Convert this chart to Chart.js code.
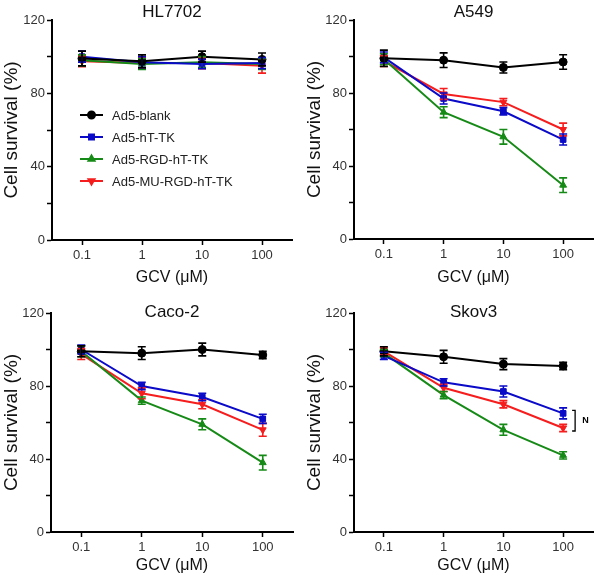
<!DOCTYPE html>
<html lang="en">
<head>
<meta charset="UTF-8">
<script src="https://cdn.jsdelivr.net/npm/chart.js"></script>
<title>Cell survival</title>
<style>
  body { margin: 0; background: #fff; }
  .painel { position: absolute; }
</style>
</head>
<body>
  <canvas id="grafico_1" class="painel" width="300" height="287" style="left:0;top:0"></canvas>
  <canvas id="grafico_2" class="painel" width="300" height="287" style="left:300px;top:0"></canvas>
  <canvas id="grafico_3" class="painel" width="300" height="288" style="left:0;top:287px"></canvas>
  <canvas id="grafico_4" class="painel" width="300" height="288" style="left:300px;top:287px"></canvas>

<script>
// valores (media e erro)
const categorias = ['0.1', '1', '10', '100'];
const nomesSeries = ['Ad5-blank', 'Ad5-hT-TK', 'Ad5-RGD-hT-TK', 'Ad5-MU-RGD-hT-TK'];
const yTicks = [0, 40, 80, 120];

const hl_blank = [99, 97.5, 100, 98.5];
const hl_blank_err = [4, 3.5, 3, 3.5];
const hl_htk = [100, 97, 96, 96.5];
const hl_htk_err = [3, 3, 2.5, 3];
const hl_rgd = [98, 96, 97, 96];
const hl_rgd_err = [3, 3, 3, 3];
const hl_mu = [97.5, 96.5, 96.5, 95];
const hl_mu_err = [3, 3, 3, 4];

const a549_blank = [99, 98, 94, 97];
const a549_blank_err = [4.5, 4, 3, 4];
const a549_htk = [99.5, 77, 70, 54.5];
const a549_htk_err = [3, 3, 2, 3];
const a549_rgd = [98.5, 69.5, 56, 29.5];
const a549_rgd_err = [3, 3, 4, 4];
const a549_mu = [97.5, 79.5, 75, 60];
const a549_mu_err = [3, 3, 2, 3.5];

const caco_blank = [99, 98, 100, 97];
const caco_blank_err = [3, 3.5, 3.5, 2];
const caco_htk = [100, 80, 74, 62];
const caco_htk_err = [2.5, 2, 2, 2.5];
const caco_rgd = [99, 72, 59, 38];
const caco_rgd_err = [3, 2, 3, 4];
const caco_mu = [97.5, 76, 70, 56];
const caco_mu_err = [3, 3, 2.5, 3.5];

const skov_blank = [99, 96, 92, 91];
const skov_blank_err = [2.5, 3.5, 3, 2];
const skov_htk = [96.5, 82, 77, 65];
const skov_htk_err = [2, 2, 3, 3];
const skov_rgd = [98, 75, 56, 42];
const skov_rgd_err = [2, 2, 3, 2];
const skov_mu = [99, 79, 70, 57];
const skov_mu_err = [2, 2, 2, 2];

// estilo das series
const cores = ['#000000', '#0a0ac8', '#168a16', '#f51d1d'];
const marcadores = ['circle', 'rect', 'triangle', 'triangle'];
const rotacoes = [0, 0, 0, 180];

Chart.defaults.font.family = "'Liberation Sans', Arial, sans-serif";
Chart.defaults.color = '#333';

const errorBars = {
  id: 'errorBars',
  afterDatasetsDraw(chart) {
    const ctx = chart.ctx;
    const y = chart.scales.y;
    for (let i = chart.data.datasets.length - 1; i >= 0; i--) {
      const ds = chart.data.datasets[i];
      const meta = chart.getDatasetMeta(i);
      ctx.save();
      ctx.strokeStyle = ds.borderColor;
      ctx.lineWidth = 1.6;
      meta.data.forEach((pt, j) => {
        const topo = y.getPixelForValue(ds.data[j] + ds.erros[j]);
        const base = y.getPixelForValue(ds.data[j] - ds.erros[j]);
        ctx.beginPath();
        ctx.moveTo(pt.x, topo); ctx.lineTo(pt.x, base);
        ctx.moveTo(pt.x - 4, topo); ctx.lineTo(pt.x + 4, topo);
        ctx.moveTo(pt.x - 4, base); ctx.lineTo(pt.x + 4, base);
        ctx.stroke();
      });
      ctx.restore();
    }
  }
};

// legenda dentro da area do grafico (so no primeiro painel)
const legendaInterna = {
  id: 'legendaInterna',
  afterDraw(chart, args, opts) {
    if (!opts.display) return;
    const ctx = chart.ctx;
    const area = chart.chartArea;
    chart.data.datasets.forEach((ds, i) => {
      const x = area.left + 28;
      const y = area.top + 95 + i * 22;
      ctx.save();
      ctx.strokeStyle = ds.borderColor;
      ctx.lineWidth = 2;
      ctx.beginPath();
      ctx.moveTo(x, y); ctx.lineTo(x + 23, y);
      ctx.stroke();
      ctx.fillStyle = ds.borderColor;
      Chart.helpers.drawPoint(ctx, {
        pointStyle: ds.pointStyle, rotation: ds.pointRotation,
        radius: 3.5, borderWidth: 1
      }, x + 11.5, y);
      ctx.fillStyle = '#222';
      ctx.font = "13px 'Liberation Sans', Arial, sans-serif";
      ctx.textBaseline = 'middle';
      ctx.fillText(ds.label, x + 32, y + 1);
      ctx.restore();
    });
  }
};

// colchete com "N" entre duas series no ultimo ponto
const colchete = {
  id: 'colchete',
  afterDraw(chart, args, opts) {
    if (!opts.display) return;
    const ctx = chart.ctx;
    const pa = chart.getDatasetMeta(opts.de).data[opts.ponto];
    const pb = chart.getDatasetMeta(opts.ate).data[opts.ponto];
    const x = pa.x + 12;
    const y1 = pa.y - 3, y2 = pb.y + 3;
    ctx.save();
    ctx.strokeStyle = '#000';
    ctx.lineWidth = 1.3;
    ctx.beginPath();
    ctx.moveTo(x - 3, y1); ctx.lineTo(x, y1); ctx.lineTo(x, y2); ctx.lineTo(x - 3, y2);
    ctx.stroke();
    ctx.fillStyle = '#000';
    ctx.font = "bold 9px 'Liberation Sans', Arial, sans-serif";
    ctx.textBaseline = 'middle';
    ctx.fillText(opts.texto, x + 7, (y1 + y2) / 2);
    ctx.restore();
  }
};

function montarSeries(medias, erros) {
  return medias.map((m, i) => ({
    label: nomesSeries[i],
    data: m,
    erros: erros[i],
    borderColor: cores[i],
    backgroundColor: cores[i],
    borderWidth: 2,
    pointStyle: marcadores[i],
    pointRotation: rotacoes[i],
    pointRadius: 4,
    pointBorderWidth: 1,
    tension: 0
  }));
}

function criarGrafico(id, titulo, medias, erros, lay, extras) {
  return new Chart(document.getElementById(id), {
    type: 'line',
    data: { labels: categorias, datasets: montarSeries(medias, erros) },
    options: {
      responsive: false,
      animation: false,
      layout: { padding: { left: 0, right: lay.right, top: 0, bottom: 0 } },
      plugins: {
        legend: { display: false },
        tooltip: { enabled: false },
        title: {
          display: true,
          fullSize: false,
          text: titulo,
          color: '#111',
          font: { size: 17, weight: 'normal' },
          padding: { top: lay.tituloTop, bottom: lay.tituloBottom }
        },
        legendaInterna: { display: !!extras.legenda },
        colchete: extras.colchete || { display: false }
      },
      scales: {
        x: {
          offset: true,
          afterFit: s => { s.height = lay.xAltura },
          border: { color: '#000', width: 2 },
          grid: { drawOnChartArea: false, tickLength: 5, tickColor: '#000', tickWidth: 1.5, offset: false },
          ticks: { color: '#333', font: { size: 13 }, padding: 3 },
          title: { display: true, text: 'GCV (μM)', color: '#111', font: { size: 16 }, padding: { top: lay.xTituloPad, bottom: 0 } }
        },
        y: {
          min: 0,
          max: 120,
          afterFit: s => { s.width = lay.yLargura },
          border: { color: '#000', width: 2 },
          grid: { drawOnChartArea: false, tickLength: 5, tickColor: '#000', tickWidth: 1.5 },
          ticks: {
            stepSize: 20,
            color: '#333',
            font: { size: 13 },
            padding: 2,
            callback: v => yTicks.includes(v) ? v : ''
          },
          title: { display: true, text: 'Cell survival (%)', color: '#111', font: { size: 19 }, padding: { top: lay.yTituloPad, bottom: 0 } }
        }
      }
    },
    plugins: [errorBars, legendaInterna, colchete]
  });
}

criarGrafico('grafico_1', 'HL7702',
  [hl_blank, hl_htk, hl_rgd, hl_mu],
  [hl_blank_err, hl_htk_err, hl_rgd_err, hl_mu_err],
  { yLargura: 52, right: 8, tituloTop: 2, tituloBottom: -2.4, xAltura: 47, xTituloPad: 7.4, yTituloPad: 0.6 },
  { legenda: true });

criarGrafico('grafico_2', 'A549',
  [a549_blank, a549_htk, a549_rgd, a549_mu],
  [a549_blank_err, a549_htk_err, a549_rgd_err, a549_mu_err],
  { yLargura: 54, right: 7, tituloTop: 2, tituloBottom: -2.4, xAltura: 48, xTituloPad: 9.4, yTituloPad: 3.6 },
  {});

criarGrafico('grafico_3', 'Caco-2',
  [caco_blank, caco_htk, caco_rgd, caco_mu],
  [caco_blank_err, caco_htk_err, caco_rgd_err, caco_mu_err],
  { yLargura: 51, right: 7, tituloTop: 15, tituloBottom: -9.4, xAltura: 43, xTituloPad: 7, yTituloPad: 0.6 },
  {});

criarGrafico('grafico_4', 'Skov3',
  [skov_blank, skov_htk, skov_rgd, skov_mu],
  [skov_blank_err, skov_htk_err, skov_rgd_err, skov_mu_err],
  { yLargura: 54, right: 7, tituloTop: 15, tituloBottom: -9.4, xAltura: 43, xTituloPad: 7, yTituloPad: 3.6 },
  { colchete: { display: true, de: 1, ate: 3, ponto: 3, texto: 'N' } });
</script>
</body>
</html>
